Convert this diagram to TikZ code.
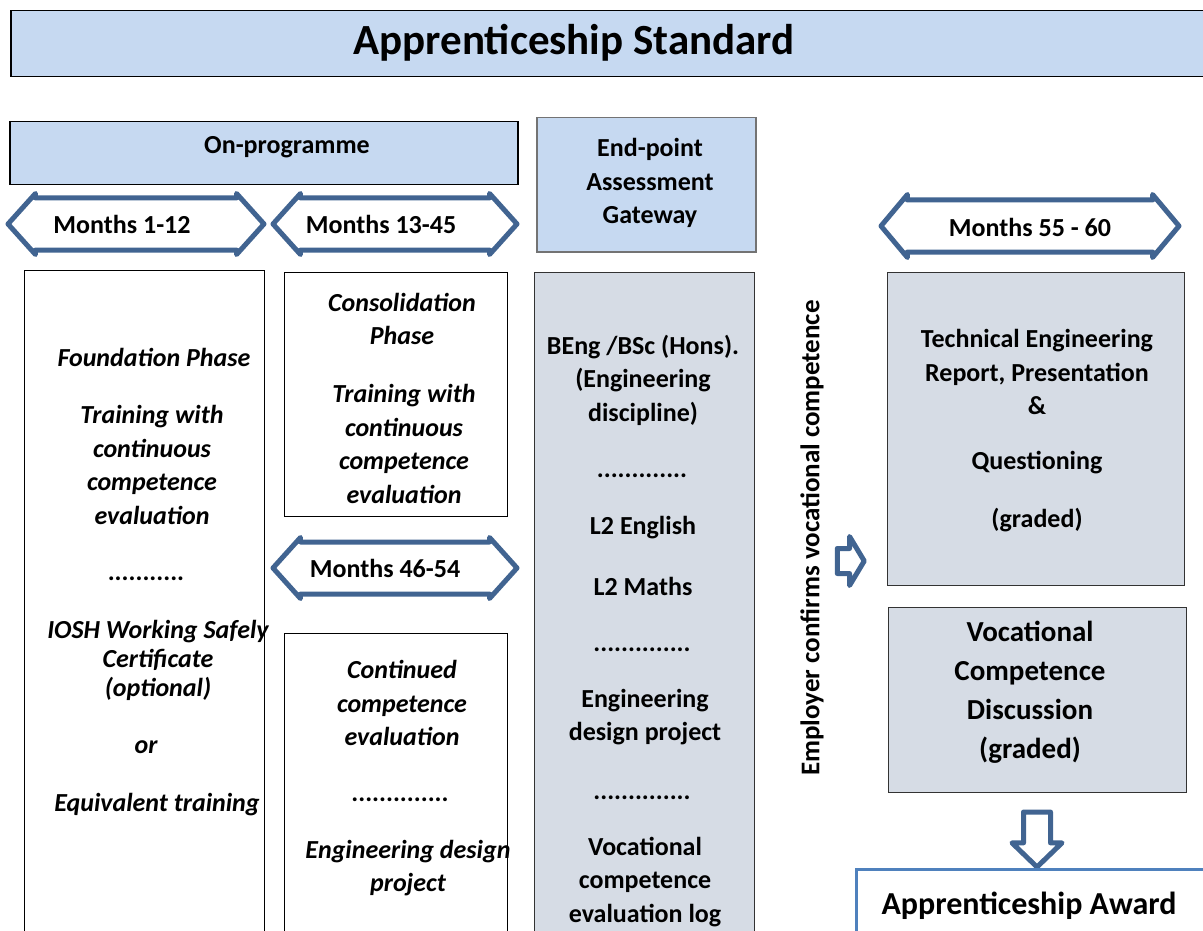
\documentclass[tikz,border=0pt]{standalone}
\usepackage{fontspec}
\setmainfont{Carlito}
\usetikzlibrary{shapes.arrows,positioning}
\definecolor{headblue}{RGB}{198,217,241}
\definecolor{panelgrey}{RGB}{214,220,229}
\definecolor{arrowblue}{RGB}{65,100,145}
\definecolor{awardblue}{RGB}{79,129,189}
\newcommand{\txtfont}{\fontsize{26}{33.5}\selectfont\bfseries}
\tikzstyle{header}=[rectangle, draw=black, line width=1.5pt, fill=headblue, anchor=north west]
\tikzstyle{plainbox}=[rectangle, draw=black, line width=1.2pt, fill=white, anchor=north west]
\tikzstyle{greybox}=[rectangle, draw=black!80, line width=1.2pt, fill=panelgrey, anchor=north west]
\tikzstyle{months}=[double arrow, draw=arrowblue, line width=5pt, line join=round, fill=white,
                    inner sep=0pt, text height=47pt, text depth=0pt,
                    double arrow head extend=4.5pt, double arrow tip angle=96]
\tikzstyle{body}=[align=center, inner sep=0pt, font=\txtfont]
\tikzstyle{bodyit}=[align=center, inner sep=0pt, font=\txtfont\itshape]
\tikzstyle{dots}=[anchor=base, inner sep=0pt, font=\txtfont]
\tikzstyle{hollow}=[single arrow, draw=arrowblue, line width=5pt, line join=round, fill=white,
                    inner sep=0pt, text depth=0pt]

\begin{document}
\begin{tikzpicture}[x=1pt,y=-1pt]
  \clip (0,0) rectangle (1203,931);

  % title and headers
  \node [header, minimum width=1220pt, minimum height=66pt] (titlebox) at (10,10) {};
  \node [font=\fontsize{43}{50}\selectfont\bfseries] (title) at (574,43) {Apprenticeship Standard};

  \node [header, minimum width=508pt, minimum height=63pt] (onprog) at (9,121) {};
  \node [font=\fontsize{26}{30}\selectfont\bfseries] (onprogtext) at (287,147) {On-programme};

  \node [header, draw=black!55, minimum width=219pt, minimum height=134pt] (epa) at (536,117) {};
  \node [body] (epatext) at (650,183) {End-point\\Assessment\\Gateway};

  % month arrows
  \node [months, minimum height=256pt] (m1) at (136,224) {};
  \node [body] (m1text) at (122,224) {Months 1-12};
  \node [months, minimum height=244pt] (m2) at (395,224) {};
  \node [body] (m2text) at (381,224) {Months 13-45};
  \node [months, minimum height=244pt] (m3) at (395,568) {};
  \node [body] (m3text) at (385,568) {Months 46-54};
  \node [months, minimum height=298pt, double arrow head extend=5.5pt,
         double arrow tip angle=100] (m4) at (1030,226) {};
  \node [body] (m4text) at (1030,227) {Months 55 - 60};

  % on-programme columns
  \node [plainbox, minimum width=240pt, minimum height=700pt] (found) at (24,270) {};
  \node [bodyit] (f1) at (154,357) {Foundation Phase};
  \node [bodyit] (f2) at (152,465) {Training with\\continuous\\competence\\evaluation};
  \node [dots] (f3) at (146,580) {...........};
  \node [bodyit, font=\fontsize{26}{29}\selectfont\bfseries\itshape] (f4) at (158,660) {IOSH Working Safely\\Certificate\\(optional)};
  \node [bodyit] (f5) at (146,747) {or};
  \node [bodyit] (f6) at (157,805) {Equivalent training};

  \node [plainbox, minimum width=223pt, minimum height=244pt] (consol) at (284,272) {};
  \node [bodyit] (c1) at (402,319) {Consolidation\\Phase};
  \node [bodyit] (c2) at (404,444) {Training with\\continuous\\competence\\evaluation};

  \node [plainbox, minimum width=223pt, minimum height=400pt] (contin) at (284,633) {};
  \node [bodyit] (k1) at (402,703) {Continued\\competence\\evaluation};
  \node [dots] (k2) at (400,801) {..............};
  \node [bodyit] (k3) at (408,868) {Engineering design\\project};

  % end-point assessment column
  \node [greybox, minimum width=220pt, minimum height=700pt] (beng) at (534,272) {};
  \node [body] (b1) at (643,380) {BEng /BSc (Hons).\\(Engineering\\discipline)};
  \node [dots] (b2) at (642,477) {.............};
  \node [body] (b3) at (643,528) {L2 English};
  \node [body] (b4) at (643,586) {L2 Maths};
  \node [dots] (b5) at (642,651) {..............};
  \node [body] (b6) at (645,717) {Engineering\\design project};
  \node [dots] (b7) at (642,799) {..............};
  \node [body] (b8) at (645,882) {Vocational\\competence\\evaluation log};

  % employer confirmation
  \node [font=\fontsize{27}{32}\selectfont\bfseries, rotate=90] (employer) at (812,538) {Employer confirms vocational competence};
  \node [hollow, text height=20pt, minimum height=27pt, single arrow head extend=12pt,
         single arrow tip angle=118] (confirm) at (847,561) {};

  % end-point assessment
  \node [greybox, minimum width=297pt, minimum height=313pt] (report) at (887,272) {};
  \node [body] (r1) at (1037,372) {Technical Engineering\\Report, Presentation\\\&};
  \node [body] (r2) at (1037,463) {Questioning};
  \node [body] (r3) at (1037,520) {(graded)};

  \node [greybox, minimum width=298pt, minimum height=185pt] (discuss) at (888,607) {};
  \node [align=center, inner sep=0pt, font=\fontsize{29}{39}\selectfont\bfseries] (d1) at (1030,692)
        {Vocational\\Competence\\Discussion\\(graded)};

  \node [hollow, rotate=-90, text height=22pt, minimum height=55pt, single arrow head extend=11.5pt,
         single arrow tip angle=92] (toaward) at (1037,833) {};

  \node [rectangle, draw=awardblue, line width=3pt, fill=white, anchor=north west,
         minimum width=352pt, minimum height=120pt] (awardbox) at (855,868) {};
  \node [font=\fontsize{32}{37}\selectfont\bfseries] (award) at (1029,906) {Apprenticeship Award};
\end{tikzpicture}
\end{document}
